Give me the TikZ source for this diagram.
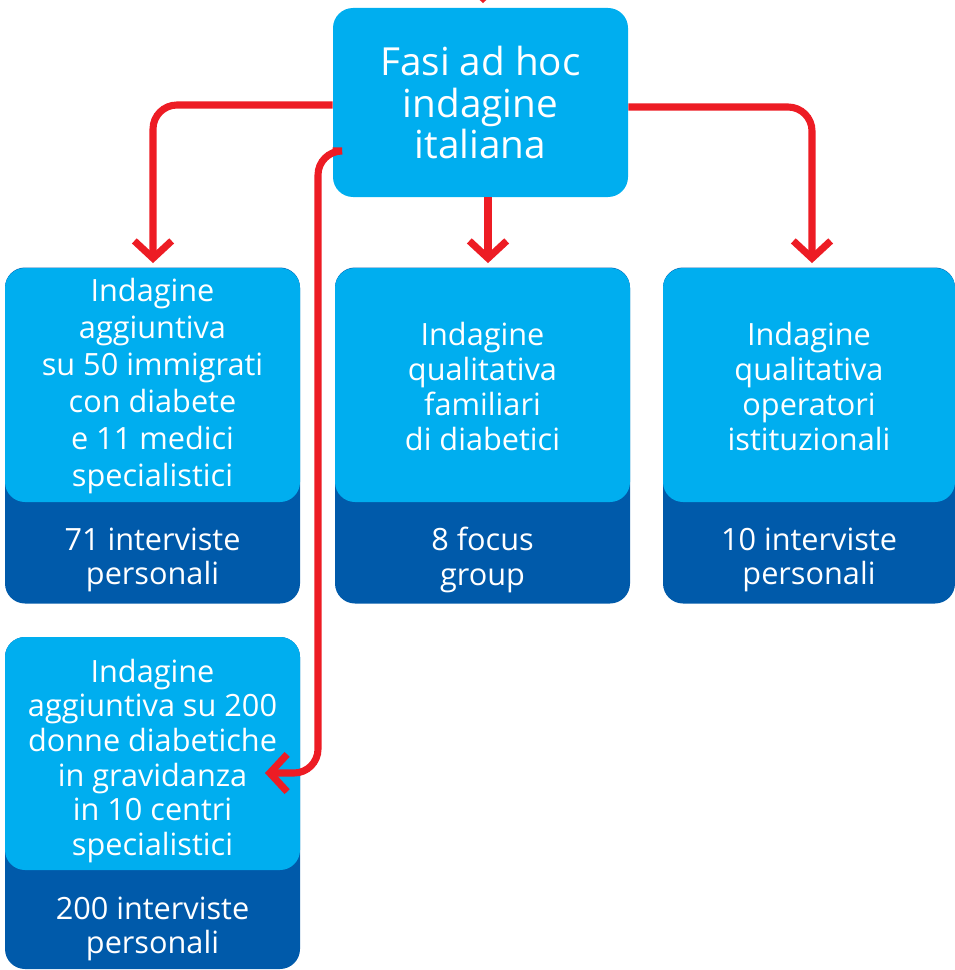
\documentclass[tikz,border=0pt]{standalone}
\usepackage{fontspec}
\setmainfont{Open Sans}
\usetikzlibrary{arrows.meta}
\definecolor{lblue}{RGB}{0,174,239}
\definecolor{dblue}{RGB}{0,90,170}
\definecolor{cred}{RGB}{237,28,36}
\begin{document}
\begin{tikzpicture}[x=0.75pt,y=-0.75pt,
  boxbase/.style={rounded corners=15pt, minimum width=221.25pt, inner sep=0pt, text=white, align=center},
  lightbox/.style={boxbase, fill=lblue, minimum height=175.5pt},
  darkbox/.style={boxbase, fill=dblue, minimum height=252pt},
  boxtext/.style={text=white, align=center, inner sep=0pt},
  toptext/.style={font=\fontsize{29}{31}\selectfont},
  txtA/.style={boxtext, font=\fontsize{23}{27.75}\selectfont},
  txtB/.style={boxtext, font=\fontsize{23}{26.25}\selectfont},
  txtC/.style={boxtext, font=\fontsize{23}{26}\selectfont},
  darklabel/.style={boxtext, font=\fontsize{23}{26}\selectfont},
  conn/.style={draw=cred, line width=5.3pt, rounded corners=18pt,
    -{Straight Barb[length=13pt, width=28pt, sharp]}, shorten >=3.5pt}
]
\useasboundingbox (0,0) rectangle (955,970);

% top box
\node[boxbase, fill=lblue, minimum height=141.75pt, toptext] (top) at (480.5,102.5)
  {Fasi ad hoc\\indagine\\italiana};

% row 1 boxes
\node[darkbox] (dA) at (152.5,435.5) {};
\node[lightbox] (bA) at (152.5,385) {};
\node[txtA] (lA) at (152.5,386)
  {Indagine\\aggiuntiva\\su 50 immigrati\\con diabete\\e 11 medici\\specialistici};
\node[darklabel] (tA) at (152.5,560) {71 interviste\\personali};

\node[darkbox] (dB) at (482.5,435.5) {};
\node[lightbox] (bB) at (482.5,385) {};
\node[txtB] (lB) at (482.5,386)
  {Indagine\\qualitativa\\familiari\\di diabetici};
\node[darklabel] (tB) at (482.5,560) {8 focus\\group};

\node[darkbox, minimum width=219pt] (dC) at (809,435.5) {};
\node[lightbox, minimum width=219pt] (bC) at (809,385) {};
\node[txtB] (lC) at (809,386)
  {Indagine\\qualitativa\\operatori\\istituzionali};
\node[darklabel] (tC) at (809,560) {10 interviste\\personali};

% lower-left box
\node[darkbox, minimum height=249pt] (dD) at (152.5,803) {};
\node[lightbox, minimum height=174.75pt] (bD) at (152.5,753.5) {};
\node[txtC] (lD) at (152.5,761)
  {Indagine\\aggiuntiva su 200\\donne diabetiche\\in gravidanza\\in 10 centri\\specialistici};
\node[darklabel] (tD) at (152.5,929) {200 interviste\\personali};

% connectors
\coordinate (inc) at (483,-60);
\draw[conn] (inc) -- (top.north -| inc);
\draw[conn] (top.west |- 0,105) -| (bA.north -| 153,0);
\draw[conn] (top.east |- 0,107) -| (bC.north -| 812,0);
\draw[conn, shorten <=0pt] (top.south -| 488,0) -- (bB.north -| 488,0);
\coordinate (bendD) at (318,773);
\coordinate (tipD) at (265,773);
\draw[conn, shorten >=0pt] (top.west |- 0,151) -| (bendD) -- (tipD);
\end{tikzpicture}
\end{document}
